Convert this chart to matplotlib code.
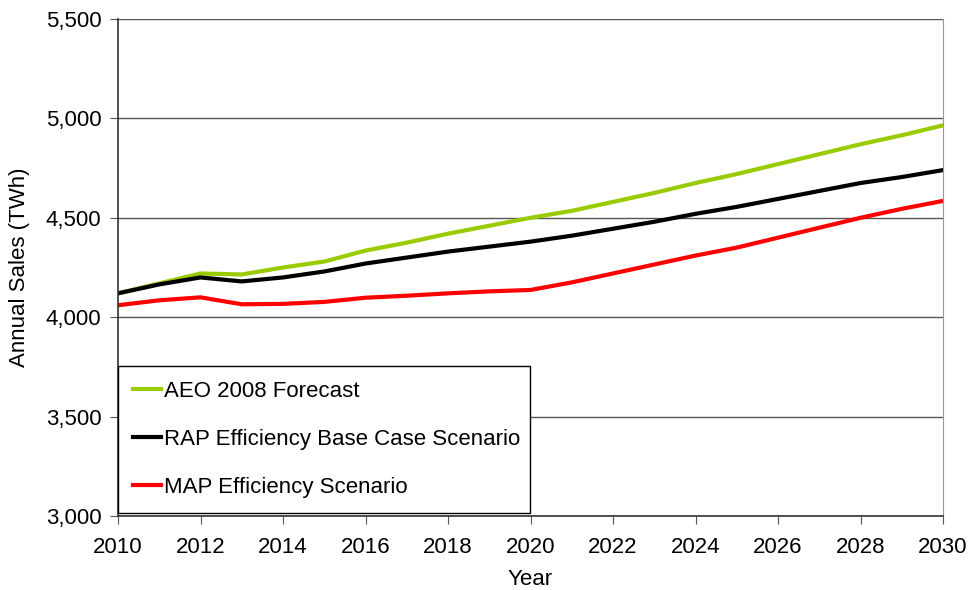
import matplotlib
matplotlib.use('Agg')
from matplotlib import pyplot as plt

plt.rcParams['font.family'] = ['Liberation Sans', 'DejaVu Sans']

years = list(range(2010, 2031))
aeo_2008 = [4120, 4170, 4220, 4215, 4250, 4280, 4335, 4375, 4420, 4460, 4500,
            4535, 4580, 4625, 4675, 4720, 4770, 4820, 4870, 4915, 4965]
rap_base = [4120, 4165, 4200, 4180, 4200, 4230, 4270, 4300, 4330, 4355, 4380,
            4410, 4445, 4480, 4520, 4555, 4595, 4635, 4675, 4705, 4740]
map_eff = [4060, 4085, 4100, 4065, 4067, 4077, 4098, 4108, 4120, 4130, 4137,
           4175, 4220, 4265, 4310, 4350, 4400, 4450, 4500, 4545, 4585]
labels = ['AEO 2008 Forecast', 'RAP Efficiency Base Case Scenario', 'MAP Efficiency Scenario']
colors = ['#99cc00', '#000000', '#ff0000']

fig = plt.figure(figsize=(9.74, 5.90), dpi=100)
ax = fig.add_axes([118 / 974, 1 - 516 / 590, 825 / 974, 497 / 590])

for ys, lab, c in zip([aeo_2008, rap_base, map_eff], labels, colors):
    ax.plot(years, ys, color=c, lw=3, label=lab, solid_joinstyle='miter')

ax.set_xlim(2010, 2030)
ax.set_ylim(3000, 5500)
ax.set_xticks(range(2010, 2031, 2))
ax.set_yticks(range(3000, 5501, 500))
ax.set_yticklabels([f'{v:,}' for v in range(3000, 5501, 500)])
ax.yaxis.grid(True, color='#555555', lw=1)
ax.set_axisbelow(True)
ax.tick_params(labelsize=16, length=6, color='#555555', direction='out')
ax.tick_params(axis='x', pad=9)
ax.tick_params(axis='y', pad=6)

for side in ['left', 'bottom']:
    ax.spines[side].set_color('#333333')
    ax.spines[side].set_linewidth(1.2)
ax.spines['top'].set_visible(False)
ax.spines['right'].set_color('#999999')

ax.set_xlabel('Year', fontsize=16, labelpad=8)
ax.set_ylabel('Annual Sales (TWh)', fontsize=16, labelpad=11)

leg = ax.legend(loc='lower left', bbox_to_anchor=(0, 0.006, 0.499, 0.296), mode='expand',
                fontsize=16, frameon=True, fancybox=False, framealpha=1,
                edgecolor='#000000', handlelength=1.25, handletextpad=0.15,
                labelspacing=1.22, borderpad=0.68, borderaxespad=0)
leg.get_frame().set_linewidth(1)

fig.savefig('out.png', dpi=100)
